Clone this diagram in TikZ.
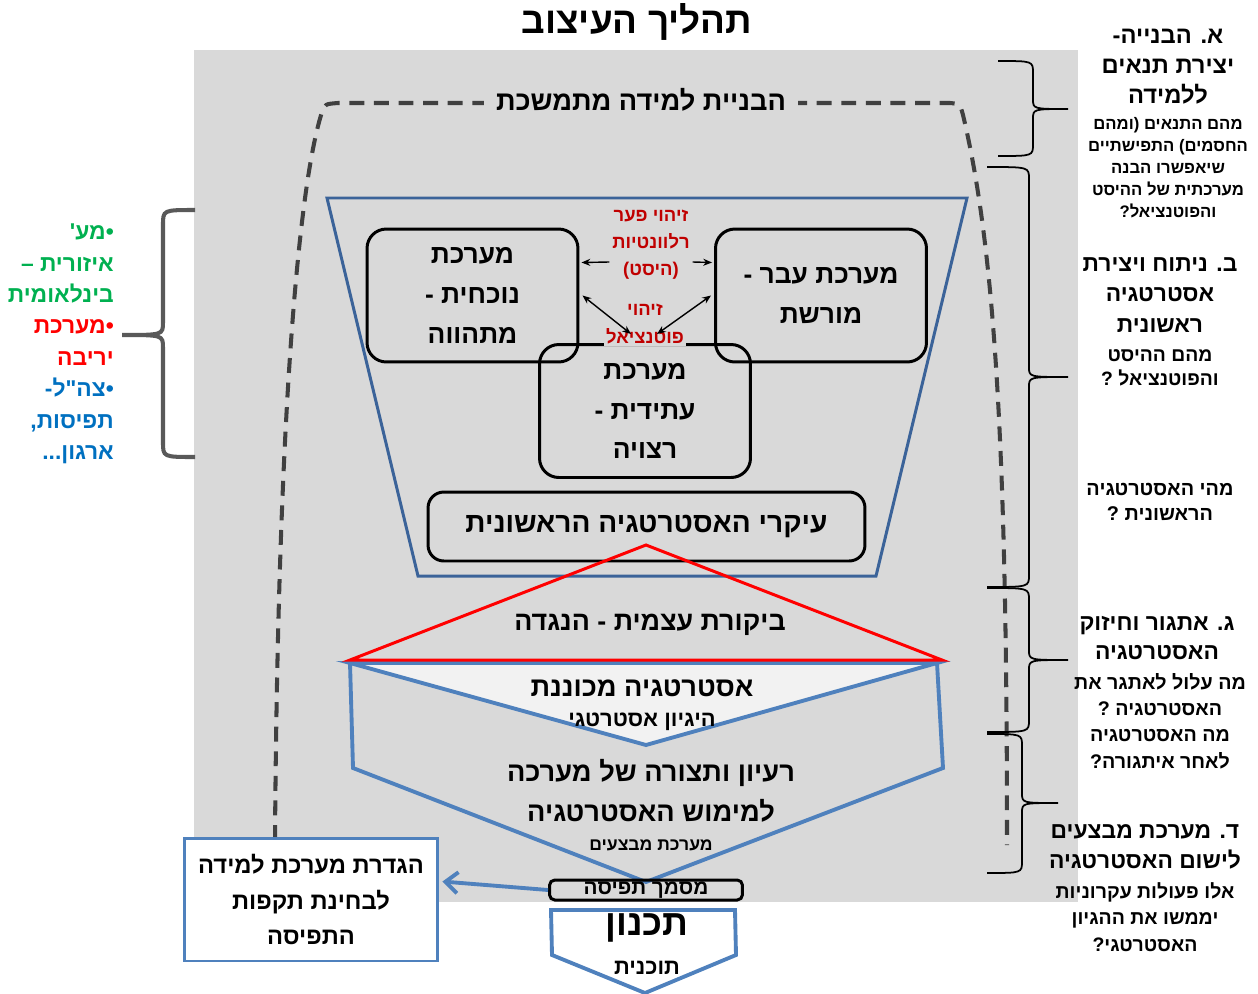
\documentclass[tikz,border=0pt]{standalone}
\usepackage{fontspec}
\setmainfont{Liberation Sans}
\newfontfamily\hebfont[Script=Hebrew]{Liberation Sans}
\TeXXeTstate=1
\usetikzlibrary{positioning}
\usetikzlibrary{calc}
\usetikzlibrary{arrows.meta}
\definecolor{bggray}{HTML}{D9D9D9}
\definecolor{trapblue}{HTML}{3B6399}
\definecolor{hexblue}{HTML}{4F81BD}
\definecolor{labred}{HTML}{C00000}
\definecolor{lightfill}{HTML}{F2F2F2}
\definecolor{grn}{HTML}{00B050}
\definecolor{rd}{HTML}{FF0000}
\definecolor{blu}{HTML}{0070C0}
\definecolor{dashgray}{HTML}{404040}
\definecolor{bracegray}{HTML}{595959}
\newcommand{\rl}[1]{\beginR#1\endR}
\newcommand{\hb}[2]{\hebfont\bfseries\fontsize{#1}{#2}\selectfont}

\begin{document}
\begin{tikzpicture}[x=0.02cm,y=-0.02cm,line width=0.5mm,node distance=2pt,
  sysbox/.style={draw,line width=1.7pt,rounded corners=11pt,minimum width=4.22cm,minimum height=2.66cm,align=center},
  redlab/.style={text=labred,align=center,inner xsep=1pt,inner ysep=6pt,fill=bggray},
  arr/.style={-{Stealth[length=5pt,width=4pt]},line width=0.8pt},
  arrtwo/.style={{Stealth[length=5pt,width=4pt]}-{Stealth[length=5pt,width=4pt]},line width=0.8pt},
  dashline/.style={dashgray,line width=2.3pt,dash pattern=on 8.5pt off 5.5pt},
  rbrace/.style={line width=1pt},
  headtxt/.style={align=center,inner sep=1pt},
  bluebox/.style={draw=hexblue,line width=1.7pt,fill=white,align=center}]
  \useasboundingbox (0,0) rectangle (1258,994);
  \fill[bggray] (194,50) rectangle (1078,902);
  \node[font=\hb{21}{24}] (title) at (637,22) {\rl{תהליך העיצוב}};
  % dashed arch
  \draw[dashline] (275,840) .. controls (278,400) and (300,180) .. (322,112) .. controls (325,104) .. (338,103) -- (950,103) .. controls (960,104) .. (963,115) .. controls (995,250) and (1007,450) .. (1007,845);
  \node[fill=bggray,inner xsep=7pt,font=\hb{15.5}{17}] (learn) at (641,100) {\rl{הבניית למידה מתמשכת}};
  % trapezoid
  \draw[trapblue,line width=1.7pt] (327,198) -- (967,198) -- (876,576) -- (418,576) -- cycle;
  \node[sysbox,font=\hb{15}{22.7}] (now) at (472.5,295.5) {\rl{מערכת}\\\rl{נוכחית -}\\\rl{מתהווה}};
  \node[sysbox,font=\hb{15}{22.7}] (past) at (821,295.5) {\rl{מערכת עבר -}\\\rl{מורשת}};
  \node[sysbox,font=\hb{15}{22.7}] (future) at (645,411) {\rl{מערכת}\\\rl{עתידית -}\\\rl{רצויה}};
  \node[redlab,font=\hb{10.5}{15.3}] (gap) at (651,245) {\rl{זיהוי פער}\\\rl{רלוונטיות}\\\rl{(היסט)}};
  \node[redlab,inner ysep=1pt,font=\hb{10.5}{15.8}] (pot) at (645,324) {\rl{זיהוי}\\\rl{פוטנציאל}};
  \draw[arr] ($(gap.west)+(0,17)$) -- ($(now.east)+(2,-33)$);
  \draw[arr] ($(gap.east)+(0,17)$) -- ($(past.west)+(-2,-33)$);
  \draw[arrtwo] ($(now.east)+(3,0)$) -- ($(pot.center)+(-14,10)$);
  \draw[arrtwo] ($(past.west)+(-3,0)$) -- ($(pot.center)+(12,10)$);
  \node[draw,line width=1.7pt,rounded corners=9pt,minimum width=8.74cm,minimum height=1.38cm,font=\hb{16}{18}] (main) at (646.5,526.5) {\rl{עיקרי האסטרטגיה הראשונית}};
  % lower shapes
  \draw[hexblue,line width=2.2pt] (350,663) -- (353,768) -- (646,882) -- (943,768) -- (937,663) -- cycle;
  \draw[hexblue,line width=2.2pt,fill=lightfill] (350,663) -- (937,663) -- (646,745) -- cycle;
  \draw[red,line width=1.7pt] (646,545) -- (942,660) -- (350,660) -- cycle;
  \node[font=\hb{15.3}{17}] (crit) at (650,625) {\rl{ביקורת עצמית - הנגדה}};
  \node[font=\hb{15.5}{17}] (basis) at (642,688) {\rl{אסטרטגיה מכוננת}};
  \node[font=\hb{12.5}{14}] (logic) at (642,722) {\rl{היגיון אסטרטגי}};
  \node[align=center,font=\hb{15.5}{22.7}] (idea) at (651,791) {\rl{רעיון ותצורה של מערכה}\\\rl{למימוש האסטרטגיה}};
  \node[font=\hb{10}{11}] (ops) at (651,845) {\rl{מערכת מבצעים}};
  \node[draw,line width=1.7pt,rounded corners=3pt,minimum width=3.86cm,minimum height=0.4cm,inner sep=0pt,font=\hb{11.8}{12}] (doc) at (646,890) {\rl{מסמך תפיסה}};
  \draw[hexblue,line width=2.2pt,fill=white] (551,910) -- (735,910) -- (736,955) -- (645,993) -- (552,955) -- cycle;
  \node[font=\hb{20.5}{22}] (plan) at (647,928) {\rl{תכנון}};
  \node[font=\hb{12.5}{14}] (plantxt) at (647,968) {\rl{תוכנית}};
  \node[bluebox,minimum width=5.08cm,minimum height=2.46cm,font=\hb{13.5}{20.4}] (learnsys) at (311,899.5) {\rl{הגדרת מערכת למידה}\\\rl{לבחינת תקפות}\\\rl{התפיסה}};
  \draw[hexblue,line width=2.2pt,-{Straight Barb[length=7pt,width=12pt]}] (doc.west) -- ($(learnsys.east)+(3,-18)$);
  % left side
  \node[align=right,anchor=east,inner sep=0pt,font=\hb{13}{17.9}] (actors) at (115,344) {\textcolor{grn}{\rl{•מע'}}\\\textcolor{grn}{\rl{איזורית –}}\\\textcolor{grn}{\rl{בינלאומית}}\\\textcolor{rd}{\rl{•מערכת}}\\\textcolor{rd}{\rl{יריבה}}\\\textcolor{blu}{\rl{•צה"ל-}}\\\textcolor{blu}{\rl{תפיסות,}}\\\textcolor{blu}{\rl{ארגון...}}};
  \draw[bracegray,line width=2.3pt] (195,210) .. controls (163,210) .. (163,225) -- (163,322) .. controls (163,335) .. (122,335) .. controls (163,335) .. (163,348) -- (163,442) .. controls (163,457) .. (195,457);
  % right side
  \foreach \xe/\xs/\xt/\yt/\ym/\yb in {998/1033/1068/61/109/156, 987/1029/1068/167/377/587, 987/1029/1068/588/660/732, 987/1022/1058/734/803/873}
    \draw[rbrace] (\xe,\yt) .. controls (\xs,\yt) .. (\xs,\yt+12) -- (\xs,\ym-10) .. controls (\xs,\ym) .. (\xt,\ym) .. controls (\xs,\ym) .. (\xs,\ym+10) -- (\xs,\yb-12) .. controls (\xs,\yb) .. (\xe,\yb);
  \node[headtxt,font=\hb{13.5}{17}] (stageA) at (1168,67) {\rl{א. הבנייה-}\\\rl{יצירת תנאים}\\\rl{ללמידה}};
  \node[headtxt,font=\hb{9.5}{12.5}] (qA) at (1168,168) {\rl{מהם התנאים (ומהם}\\\rl{החסמים) התפישתיים}\\\rl{שיאפשרו הבנה}\\\rl{מערכתית של ההיסט}\\\rl{והפוטנציאל?}};
  \node[headtxt,font=\hb{13}{17.5}] (stageB) at (1160,295) {\rl{ב. ניתוח ויצירת}\\\rl{אסטרטגיה}\\\rl{ראשונית}};
  \node[headtxt,font=\hb{11}{14}] (qB) at (1160,368) {\rl{מהם ההיסט}\\\rl{והפוטנציאל ?}};
  \node[headtxt,font=\hb{11.3}{14}] (qBB) at (1160,502) {\rl{מהי האסטרטגיה}\\\rl{הראשונית ?}};
  \node[headtxt,font=\hb{13}{17}] (stageC) at (1157,638) {\rl{ג. אתגור וחיזוק}\\\rl{האסטרטגיה}};
  \node[headtxt,font=\hb{11.2}{15}] (qC) at (1160,721) {\rl{מה עלול לאתגר את}\\\rl{האסטרטגיה ?}\\\rl{מה האסטרטגיה}\\\rl{לאחר איתגורה?}};
  \node[headtxt,font=\hb{13}{17}] (stageD) at (1145,847) {\rl{ד. מערכת מבצעים}\\\rl{לישום האסטרטגיה}};
  \node[headtxt,font=\hb{11.1}{15}] (qD) at (1145,917) {\rl{אלו פעולות עקרוניות}\\\rl{יממשו את ההגיון}\\\rl{האסטרטגי?}};
\end{tikzpicture}
\end{document}
